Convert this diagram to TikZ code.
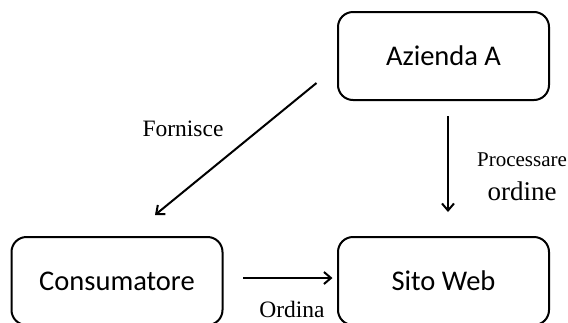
\documentclass[tikz,border=0pt]{standalone}
\usepackage{fontspec}
\setmainfont{Liberation Serif}
\newfontfamily\boxfont{Carlito}
\usetikzlibrary{arrows.meta}
\tikzset{
  boxnode/.style={draw=black, line width=2pt, rounded corners=15pt, minimum width=211pt, minimum height=88pt, inner sep=0pt, font=\boxfont\fontsize{28.5}{32}\selectfont},
  arr/.style={line width=2pt, -{Straight Barb[length=7pt,width=12pt,line width=2pt]}},
  lbl/.style={inner sep=0pt, font=\fontsize{23.5}{26}\selectfont}
}
\begin{document}
\begin{tikzpicture}[x=1pt,y=-1pt]
\useasboundingbox (0,0) rectangle (568,322);
\node[boxnode] (az) at (443.5,56) {Azienda A};
\node[boxnode] (co) at (117,281) {Consumatore};
\node[boxnode] (sw) at (443.5,281) {Sito Web};
\draw[arr] ([xshift=-20.5pt,yshift=18pt]az.south west) -- ([xshift=38pt,yshift=21pt]co.north);
\draw[arr] ([xshift=4.5pt,yshift=-15pt]az.south) -- ([xshift=4.5pt,yshift=24pt]sw.north);
\draw[arr] ([xshift=19.5pt,yshift=3pt]co.east) -- ([xshift=-4.5pt,yshift=3pt]sw.west);
\node[lbl] (forn) at (183,129) {Fornisce};
\node[lbl, font=\fontsize{21}{24}\selectfont] (proc) at (522,160) {Processare};
\node[lbl, font=\fontsize{27}{30}\selectfont] (ord) at (522,191) {ordine};
\node[lbl] (ordina) at (292,309) {Ordina};
\end{tikzpicture}
\end{document}
